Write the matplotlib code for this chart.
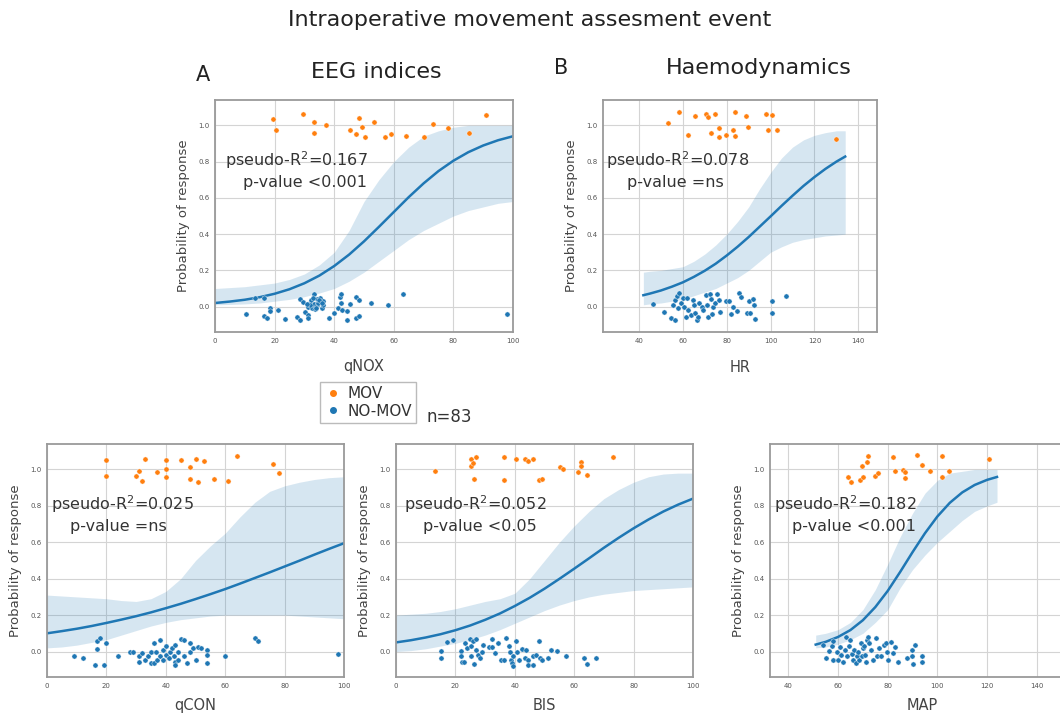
import matplotlib.pyplot as plt

# colours of the two groups
mov_color = '#ff7f0e'
nomov_color = '#1f77b4'

# ---------------- qNOX ----------------
qnox_mov_x = [19.6, 20.4, 29.4, 33.3, 33.3, 37.2, 45.3, 47.3, 48.3, 49.3, 50.3, 53.3,
              57.2, 59.2, 64.2, 70.2, 73.2, 78.2, 85.1, 91.1]
qnox_mov_y = [1.036, 0.976, 1.06, 1.02, 0.957, 1.0, 0.973, 0.95, 1.04, 0.99, 0.935, 1.02,
              0.935, 0.953, 0.944, 0.935, 1.01, 0.984, 0.96, 1.056]
qnox_nomov_x = [10.5, 13.3, 16.4, 16.4, 17.4, 18.4, 18.4, 21.3, 23.5, 27.4, 28.4, 28.4,
                29.4, 30.3, 31.3, 31.3, 31.3, 31.8, 32.3, 32.7, 33.3, 33.3, 33.7, 34.2,
                34.2, 34.7, 35.2, 35.8, 36.2, 36.2, 32.0, 33.0, 34.0, 35.0, 30.8, 36.0,
                38.2, 40.0, 41.2, 41.9, 42.2, 42.2, 42.7, 44.2, 44.2, 45.3, 47.3, 47.3,
                48.3, 48.3, 52.3, 58.2, 63.2, 98.0]
qnox_nomov_y = [-0.04, 0.045, 0.045, -0.05, -0.065, -0.005, -0.024, -0.02, -0.07, -0.056, -0.074, 0.04,
                0.027, -0.03, -0.047, -0.065, 0.0, 0.022, 0.036, -0.005, 0.072, 0.013, -0.014, 0.04,
                0.007, 0.022, 0.05, -0.005, 0.03, 0.007, 0.01, 0.045, -0.01, 0.035, 0.015, 0.02,
                -0.06, -0.036, -0.005, 0.054, 0.072, 0.022, -0.018, -0.024, -0.072, 0.013, 0.054, -0.065,
                0.036, -0.05, 0.018, 0.007, 0.072, -0.043]
qnox_x = [0, 5, 10, 15, 20, 25, 30, 35, 40, 45, 50, 55, 60, 65, 70, 75, 80, 85, 90, 95, 100]
qnox_p = [0.02, 0.028, 0.038, 0.052, 0.071, 0.096, 0.129, 0.171, 0.224, 0.287, 0.36, 0.44,
          0.522, 0.604, 0.68, 0.748, 0.805, 0.852, 0.889, 0.918, 0.94]
qnox_lo = [0.01, 0.012, 0.015, 0.02, 0.03, 0.04, 0.055, 0.075, 0.1, 0.14, 0.19, 0.25,
           0.31, 0.37, 0.42, 0.46, 0.5, 0.53, 0.55, 0.57, 0.58]
qnox_hi = [0.1, 0.105, 0.11, 0.12, 0.13, 0.15, 0.18, 0.23, 0.3, 0.42, 0.58, 0.7,
           0.8, 0.88, 0.94, 0.97, 0.99, 1.0, 1.0, 1.0, 1.0]

# ---------------- HR ----------------
hr_mov_x = [53.4, 58.4, 62.5, 65.5, 70.5, 71.6, 72.7, 74.7, 76.6, 76.6, 79.7, 82.7,
            83.8, 83.8, 88.8, 89.8, 97.8, 98.8, 100.8, 102.8, 129.8]
hr_mov_y = [1.011, 1.073, 0.945, 1.051, 1.064, 1.044, 0.96, 1.064, 0.985, 0.936, 0.947, 0.972,
            1.073, 0.941, 1.051, 0.993, 1.06, 0.976, 1.059, 0.976, 0.927]
hr_nomov_x = [46.5, 51.6, 54.6, 55.3, 56.4, 56.4, 57.2, 57.6, 58.4, 59.0, 59.9, 60.5,
              61.4, 61.7, 62.5, 63.6, 64.5, 65.1, 65.5, 66.3, 67.1, 67.5, 68.6, 69.3,
              70.5, 70.9, 71.6, 72.4, 72.7, 73.1, 73.9, 74.7, 75.7, 76.6, 77.0, 79.7,
              81.2, 81.8, 82.7, 84.5, 85.7, 86.7, 89.4, 90.3, 90.6, 92.1, 92.6, 92.9,
              100.8, 100.8, 106.9]
hr_nomov_y = [0.013, -0.028, -0.064, 0.009, -0.073, 0.037, 0.059, -0.009, 0.073, 0.018, 0.046, 0.0,
              -0.055, 0.046, -0.018, -0.046, 0.037, 0.009, -0.033, -0.073, -0.055, 0.018, 0.0, -0.018,
              0.064, 0.009, -0.055, 0.07, 0.04, -0.042, 0.0, 0.018, 0.07, 0.037, -0.028, 0.033,
              0.033, -0.04, 0.0, -0.022, 0.077, 0.051, -0.033, 0.033, -0.037, 0.04, 0.009, -0.07,
              0.031, -0.033, 0.059]
hr_x = [42, 45, 50, 55, 60, 65, 70, 75, 80, 85, 90, 95, 100, 105, 110, 115, 120, 125, 130, 134]
hr_p = [0.063, 0.072, 0.089, 0.11, 0.134, 0.164, 0.198, 0.237, 0.282, 0.331, 0.384, 0.441,
        0.498, 0.556, 0.612, 0.666, 0.715, 0.76, 0.8, 0.828]
hr_lo = [0.01, 0.015, 0.02, 0.03, 0.04, 0.06, 0.08, 0.1, 0.13, 0.16, 0.2, 0.25,
         0.3, 0.33, 0.355, 0.37, 0.38, 0.39, 0.395, 0.4]
hr_hi = [0.19, 0.195, 0.2, 0.21, 0.22, 0.25, 0.29, 0.34, 0.4, 0.47, 0.55, 0.65,
         0.74, 0.82, 0.88, 0.92, 0.945, 0.96, 0.97, 0.97]

# ---------------- qCON ----------------
qcon_mov_x = [20.0, 20.0, 29.9, 30.9, 31.9, 33.0, 37.0, 40.0, 40.0, 40.0, 45.1, 48.0,
              48.0, 50.0, 51.0, 53.0, 56.1, 61.0, 64.0, 76.0, 78.0]
qcon_mov_y = [1.051, 0.965, 0.965, 0.993, 0.934, 1.058, 0.984, 1.051, 1.005, 0.96, 1.053, 1.015,
              0.945, 1.058, 0.93, 1.048, 0.949, 0.938, 1.073, 1.031, 0.978]
qcon_nomov_x = [9.1, 12.1, 16.0, 17.0, 17.0, 17.9, 19.1, 20.0, 24.0, 28.0, 29.0, 30.9,
                30.9, 31.9, 33.0, 34.0, 35.0, 35.0, 36.0, 36.0, 36.6, 37.0, 38.0, 38.0,
                39.0, 39.0, 40.0, 40.0, 41.0, 41.5, 42.0, 42.6, 43.0, 43.0, 43.0, 44.1,
                44.1, 45.1, 46.0, 46.1, 47.1, 48.0, 48.2, 49.0, 50.0, 51.0, 52.0, 54.0,
                54.0, 54.0, 60.1, 70.1, 71.1, 98.1]
qcon_nomov_y = [-0.022, -0.035, -0.073, 0.06, 0.015, 0.073, -0.073, 0.046, -0.027, -0.005, -0.005, -0.058,
                -0.027, -0.009, -0.046, -0.027, -0.064, 0.0, 0.046, -0.064, -0.005, -0.046, 0.064, -0.027,
                0.009, -0.046, 0.031, -0.018, -0.035, 0.0, 0.018, -0.027, 0.037, -0.055, -0.073, -0.005,
                -0.046, 0.069, 0.064, -0.027, -0.064, 0.046, -0.005, 0.018, -0.046, 0.027, 0.018, 0.009,
                -0.018, -0.064, -0.027, 0.073, 0.06, -0.015]
qcon_x = [0, 5, 10, 15, 20, 25, 30, 35, 40, 45, 50, 55, 60, 65, 70, 75, 80, 85, 90, 95, 100]
qcon_p = [0.1, 0.112, 0.125, 0.14, 0.157, 0.175, 0.194, 0.215, 0.238, 0.262, 0.288, 0.315,
          0.343, 0.373, 0.404, 0.435, 0.467, 0.499, 0.532, 0.564, 0.595]
qcon_lo = [0.02, 0.025, 0.035, 0.05, 0.065, 0.09, 0.115, 0.14, 0.16, 0.175, 0.185, 0.195,
           0.2, 0.2, 0.2, 0.2, 0.2, 0.195, 0.19, 0.185, 0.18]
qcon_hi = [0.31, 0.305, 0.3, 0.295, 0.29, 0.28, 0.275, 0.29, 0.33, 0.4, 0.5, 0.58,
           0.65, 0.74, 0.82, 0.88, 0.91, 0.93, 0.945, 0.955, 0.96]

# ---------------- BIS ----------------
bis_mov_x = [13.2, 25.2, 25.2, 26.0, 26.3, 27.1, 36.3, 36.3, 40.4, 43.4, 44.3, 46.2,
             48.2, 49.3, 55.2, 56.3, 61.3, 62.2, 62.2, 64.2, 73.1]
bis_mov_y = [0.989, 1.018, 1.058, 1.037, 0.945, 1.069, 1.066, 0.941, 1.058, 1.058, 1.046, 1.055,
             0.94, 0.949, 1.015, 1.0, 0.987, 1.04, 1.018, 0.969, 1.069]
bis_nomov_x = [15.2, 15.2, 17.3, 19.3, 22.0, 22.0, 22.2, 23.0, 23.2, 24.0, 24.9, 25.2,
               25.2, 26.0, 26.3, 27.1, 27.1, 27.7, 28.3, 29.0, 29.4, 31.4, 32.2, 32.4,
               33.3, 34.4, 35.2, 36.3, 37.2, 38.1, 38.3, 38.6, 39.2, 39.5, 39.5, 40.4,
               40.8, 41.5, 42.4, 43.3, 43.7, 44.3, 44.5, 46.2, 46.2, 47.3, 48.2, 48.4,
               49.3, 51.2, 52.1, 54.3, 57.4, 63.2, 64.2, 67.3]
bis_nomov_y = [0.005, -0.033, 0.053, 0.064, 0.005, -0.024, -0.058, -0.058, 0.049, 0.018, 0.069, 0.033,
               -0.027, 0.058, -0.068, 0.069, 0.009, -0.018, -0.037, 0.0, 0.037, 0.027, 0.068, 0.027,
               -0.009, 0.046, -0.049, -0.046, 0.073, 0.031, 0.0, -0.046, -0.064, -0.027, -0.079, 0.057,
               0.0, -0.046, 0.015, -0.037, 0.009, -0.046, -0.073, -0.073, -0.027, -0.018, 0.058, -0.033,
               -0.046, -0.038, 0.009, 0.005, -0.024, -0.033, -0.068, -0.037]
bis_x = [0, 5, 10, 15, 20, 25, 30, 35, 40, 45, 50, 55, 60, 65, 70, 75, 80, 85, 90, 95, 100]
bis_p = [0.05, 0.062, 0.077, 0.095, 0.117, 0.143, 0.174, 0.209, 0.25, 0.295, 0.345, 0.399,
         0.455, 0.512, 0.57, 0.625, 0.677, 0.725, 0.769, 0.807, 0.84]
bis_lo = [0.0, 0.005, 0.015, 0.03, 0.045, 0.065, 0.09, 0.12, 0.155, 0.19, 0.225, 0.255,
          0.28, 0.3, 0.315, 0.325, 0.335, 0.34, 0.345, 0.35, 0.355]
bis_hi = [0.2, 0.205, 0.21, 0.22, 0.235, 0.255, 0.275, 0.29, 0.32, 0.4, 0.5, 0.6,
          0.69, 0.77, 0.84, 0.89, 0.93, 0.96, 0.975, 0.98, 0.98]

# ---------------- MAP ----------------
map_mov_x = [64.0, 65.2, 68.9, 69.8, 70.2, 71.5, 71.9, 74.9, 76.0, 82.0, 83.0, 86.0,
             87.0, 87.0, 91.9, 93.8, 97.0, 101.9, 101.9, 104.8, 120.8]
map_mov_y = [0.96, 0.93, 0.941, 1.018, 0.96, 1.04, 1.073, 0.963, 0.978, 1.066, 0.991, 0.996,
             0.987, 0.951, 1.077, 1.024, 0.991, 1.073, 0.96, 0.991, 1.058]
map_nomov_x = [54.1, 55.2, 56.5, 57.4, 58.1, 58.1, 59.7, 60.1, 60.8, 61.1, 62.1, 62.7,
               63.2, 63.5, 64.6, 64.8, 65.5, 66.2, 66.6, 67.2, 67.5, 68.2, 68.6, 69.1,
               69.5, 69.9, 70.5, 70.9, 71.1, 71.5, 72.2, 72.6, 73.2, 74.2, 75.2, 75.6,
               76.6, 77.2, 78.3, 79.3, 79.6, 80.3, 81.2, 82.3, 83.1, 84.3, 87.7, 89.7,
               89.8, 90.1, 91.0, 93.7, 93.9]
map_nomov_y = [0.037, -0.037, 0.005, 0.031, -0.046, 0.06, -0.005, -0.046, 0.027, -0.018, -0.055, 0.009,
               0.079, -0.027, 0.031, 0.064, -0.013, -0.046, 0.009, -0.064, -0.024, -0.005, -0.046, 0.049,
               -0.024, 0.018, 0.031, -0.018, -0.058, 0.064, 0.079, 0.046, 0.009, -0.046, 0.073, -0.027,
               0.018, -0.027, 0.037, 0.046, 0.0, -0.049, 0.055, -0.009, 0.027, -0.06, -0.037, 0.009,
               -0.027, -0.07, 0.037, -0.027, -0.06]
map_x = [51, 55, 60, 65, 70, 75, 80, 85, 90, 95, 100, 105, 110, 115, 120, 124]
map_p = [0.038, 0.053, 0.08, 0.118, 0.172, 0.244, 0.333, 0.437, 0.546, 0.65, 0.742, 0.817,
         0.874, 0.915, 0.943, 0.959]
map_lo = [0.02, 0.025, 0.04, 0.065, 0.1, 0.16, 0.23, 0.35, 0.45, 0.53, 0.6, 0.66,
          0.72, 0.77, 0.8, 0.82]
map_hi = [0.09, 0.1, 0.12, 0.16, 0.23, 0.34, 0.48, 0.63, 0.76, 0.87, 0.94, 0.98,
          0.99, 1.0, 1.0, 1.0]

W, H = 1060, 720


def px_rect(l, t, r, b):
    return [l / W, 1 - b / H, (r - l) / W, (b - t) / H]


def fx(x):
    return x / W


def fy(y):
    return 1 - y / H


def draw_panel(rect, mov_x, mov_y, nomov_x, nomov_y, cx, cp, clo, chi,
               xlabel, xlim, xticks, labelpad):
    ax = fig.add_axes(rect)
    ax.set_facecolor('white')
    ax.grid(True, color='#d4d4d4', lw=0.8)
    ax.set_axisbelow(True)
    for s in ax.spines.values():
        s.set_color('#9a9a9a')
        s.set_linewidth(1.3)
    ax.fill_between(cx, clo, chi, color=nomov_color, alpha=0.18, lw=0)
    ax.plot(cx, cp, color=nomov_color, lw=1.8)
    ax.scatter(mov_x, mov_y, s=14, color=mov_color, edgecolors='white', linewidths=0.3, zorder=3)
    ax.scatter(nomov_x, nomov_y, s=14, color=nomov_color, edgecolors='white', linewidths=0.3, zorder=3)
    ax.set_xlim(*xlim)
    ax.set_ylim(-0.14, 1.14)
    ax.set_xticks(xticks)
    ax.set_yticks([0.0, 0.2, 0.4, 0.6, 0.8, 1.0])
    ax.set_yticklabels(['0.0', '0.2', '0.4', '0.6', '0.8', '1.0'])
    ax.tick_params(length=0, labelsize=5, labelcolor='#555555', pad=4)
    ax.set_xlabel(xlabel, fontsize=10.5, color='#444444', labelpad=labelpad)
    ax.set_ylabel('Probability of response', fontsize=9.5, color='#444444', labelpad=6)
    return ax


fig = plt.figure(figsize=(10.6, 7.2), dpi=100)

draw_panel(px_rect(215, 100, 513, 332), qnox_mov_x, qnox_mov_y, qnox_nomov_x, qnox_nomov_y,
           qnox_x, qnox_p, qnox_lo, qnox_hi, 'qNOX', (0, 100), [0, 20, 40, 60, 80, 100], 11)
draw_panel(px_rect(603, 100, 877, 332), hr_mov_x, hr_mov_y, hr_nomov_x, hr_nomov_y,
           hr_x, hr_p, hr_lo, hr_hi, 'HR', (23.6, 148.5), [40, 60, 80, 100, 120, 140], 12)
draw_panel(px_rect(47, 444, 344, 677), qcon_mov_x, qcon_mov_y, qcon_nomov_x, qcon_nomov_y,
           qcon_x, qcon_p, qcon_lo, qcon_hi, 'qCON', (0, 100), [0, 20, 40, 60, 80, 100], 7)
draw_panel(px_rect(396, 444, 693, 677), bis_mov_x, bis_mov_y, bis_nomov_x, bis_nomov_y,
           bis_x, bis_p, bis_lo, bis_hi, 'BIS', (0, 100), [0, 20, 40, 60, 80, 100], 7)
draw_panel(px_rect(770, 444, 1075, 677), map_mov_x, map_mov_y, map_nomov_x, map_nomov_y,
           map_x, map_p, map_lo, map_hi, 'MAP', (32.6, 155.4), [40, 60, 80, 100, 120, 140], 7)

# statistics written in each panel
stat_style = dict(fontsize=11.5, color='#333333', ha='center', va='center')
fig.text(fx(296), fy(160), 'pseudo-R$^2$=0.167', **stat_style)
fig.text(fx(305), fy(182), 'p-value <0.001', **stat_style)
fig.text(fx(678), fy(160), 'pseudo-R$^2$=0.078', **stat_style)
fig.text(fx(675), fy(182), 'p-value =ns', **stat_style)
fig.text(fx(122), fy(504), 'pseudo-R$^2$=0.025', **stat_style)
fig.text(fx(118), fy(526), 'p-value =ns', **stat_style)
fig.text(fx(475), fy(504), 'pseudo-R$^2$=0.052', **stat_style)
fig.text(fx(480), fy(526), 'p-value <0.05', **stat_style)
fig.text(fx(845), fy(504), 'pseudo-R$^2$=0.182', **stat_style)
fig.text(fx(854), fy(526), 'p-value <0.001', **stat_style)

# titles
fig.text(0.5, fy(20), 'Intraoperative movement assesment event', fontsize=16,
         color='#222222', ha='center', va='center')
fig.text(fx(203), fy(75), 'A', fontsize=15, color='#222222', ha='center', va='center')
fig.text(fx(376), fy(72), 'EEG indices', fontsize=16, color='#222222', ha='center', va='center')
fig.text(fx(561), fy(68), 'B', fontsize=15, color='#222222', ha='center', va='center')
fig.text(fx(759), fy(68), 'Haemodynamics', fontsize=16, color='#222222', ha='center', va='center')

# legend
h_mov = plt.Line2D([], [], marker='o', ls='', color=mov_color, markersize=4)
h_nomov = plt.Line2D([], [], marker='o', ls='', color=nomov_color, markersize=4)
leg = fig.legend([h_mov, h_nomov], ['MOV', 'NO-MOV'], loc='upper left',
                 bbox_to_anchor=(fx(312), fy(374)), fontsize=11, frameon=True,
                 fancybox=False, handletextpad=0.3, borderpad=0.3, labelspacing=0.15,
                 handlelength=1.2)
leg.get_frame().set_edgecolor('#aaaaaa')
for t in leg.get_texts():
    t.set_color('#333333')
fig.text(fx(449), fy(417), 'n=83', fontsize=12, color='#333333', ha='center', va='center')

fig.savefig('out.png', dpi=100)
